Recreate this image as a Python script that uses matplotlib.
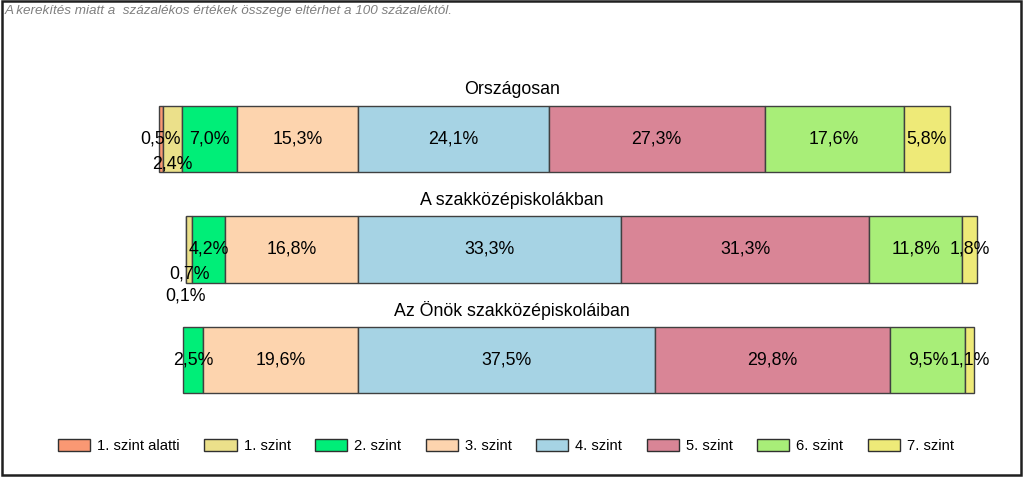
import matplotlib.pyplot as plt
from matplotlib.patches import Patch, Rectangle

plt.rcParams["font.family"] = ["Liberation Sans", "DejaVu Sans"]

# Data
groups = ["Országosan", "A szakközépiskolákban", "Az Önök szakközépiskoláiban"]
levels = ["1. szint alatti", "1. szint", "2. szint", "3. szint",
          "4. szint", "5. szint", "6. szint", "7. szint"]
orszagosan = [0.5, 2.4, 7.0, 15.3, 24.1, 27.3, 17.6, 5.8]
szakkozep = [0.1, 0.7, 4.2, 16.8, 33.3, 31.3, 11.8, 1.8]
onok = [0.0, 0.0, 2.5, 19.6, 37.5, 29.8, 9.5, 1.1]
values = [orszagosan, szakkozep, onok]
note = "A kerekítés miatt a  százalékos értékek összege eltérhet a 100 százaléktól."

colors = ["#FA9873", "#EBE08A", "#00EE78", "#FDD4AE",
          "#A6D3E4", "#D98596", "#A8EE78", "#EEEA78"]

# vertical nudges of crowded labels (group index, level index) -> data units
label_nudge = {(0, 1): 0.23, (1, 0): 0.42, (1, 1): 0.22}

fig = plt.figure(figsize=(10.24, 4.78), dpi=100)
ax = fig.add_axes([0, 0, 1, 1])

# pixel mapping: 3./4. szint border at x=358 px, 7.91 px per percent
px_per_pct = 7.91
ax.set_xlim(-358 / px_per_pct, (1024 - 358) / px_per_pct)
ax.set_ylim((478 - 139) / 110.5, -139 / 110.5)
ax.axis("off")

for gi, (name, vals) in enumerate(zip(groups, values)):
    left = -sum(vals[:4])
    for li, v in enumerate(vals):
        if v > 0:
            ax.barh(gi, v, left=left, height=0.606, color=colors[li],
                    edgecolor="#404040", linewidth=1)
            lbl = f"{v:.1f}".replace(".", ",") + "%"
            ax.text(left + v / 2, gi + label_nudge.get((gi, li), 0), lbl,
                    ha="center", va="center", fontsize=12.8, color="black")
        left += v
    ax.text(0.5, gi - 0.445, name, transform=ax.get_yaxis_transform(),
            ha="center", va="center", fontsize=12.8)

handles = [Patch(facecolor=c, edgecolor="#303030", linewidth=1) for c in colors]
fig.legend(handles, levels, loc="center", bbox_to_anchor=(506 / 1024, 1 - 446 / 478),
           ncol=8, frameon=False, fontsize=10.6, handlelength=2.18,
           handleheight=0.95, handletextpad=0.48, columnspacing=1.66)

fig.text(5 / 1024, 1 - 11 / 478, note, ha="left", va="center",
         fontsize=9.7, style="italic", color="#808080")

fig.patches.append(Rectangle((2 / 1024, 3 / 478), 1019 / 1024, 474 / 478,
                             transform=fig.transFigure, fill=False,
                             edgecolor="#202020", linewidth=1.8))

fig.savefig("out.png", dpi=100)
